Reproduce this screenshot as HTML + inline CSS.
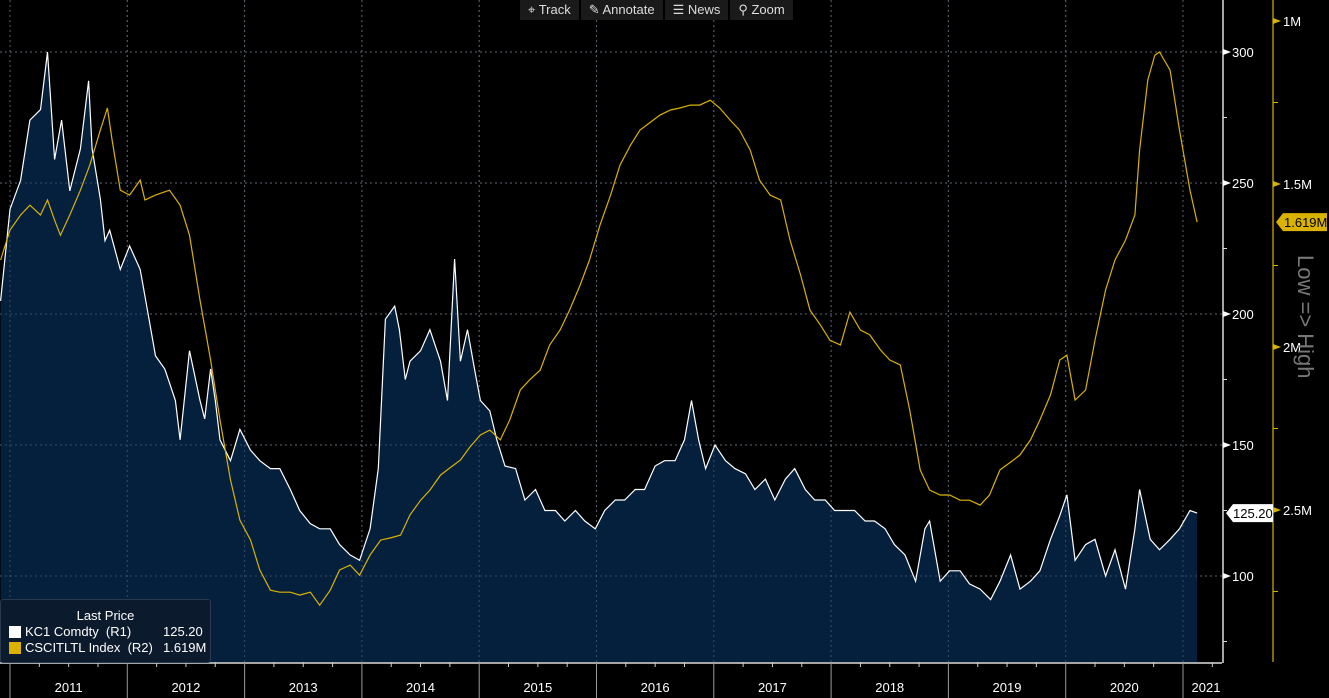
<!DOCTYPE html>
<html><head><meta charset="utf-8"><style>
html,body{margin:0;padding:0;background:#000;overflow:hidden}
svg{display:block;font-family:"Liberation Sans",sans-serif}
</style></head><body>
<svg id="c" width="1329" height="698"></svg>
<script>
const kcYears=[2010.92,2011.00,2011.09,2011.17,2011.26,2011.32,2011.38,2011.44,2011.51,2011.60,2011.67,2011.70,2011.77,2011.81,2011.85,2011.94,2012.02,2012.11,2012.17,2012.24,2012.32,2012.41,2012.45,2012.53,2012.62,2012.66,2012.71,2012.75,2012.79,2012.88,2012.96,2013.05,2013.13,2013.22,2013.30,2013.39,2013.47,2013.56,2013.64,2013.73,2013.81,2013.90,2013.98,2014.07,2014.14,2014.20,2014.28,2014.32,2014.37,2014.41,2014.50,2014.58,2014.67,2014.73,2014.79,2014.84,2014.90,2014.96,2015.01,2015.09,2015.15,2015.22,2015.31,2015.39,2015.48,2015.56,2015.65,2015.73,2015.82,2015.90,2015.99,2016.07,2016.16,2016.24,2016.33,2016.41,2016.50,2016.58,2016.67,2016.75,2016.81,2016.87,2016.93,2017.01,2017.10,2017.18,2017.27,2017.35,2017.44,2017.52,2017.61,2017.69,2017.78,2017.86,2017.95,2018.03,2018.12,2018.20,2018.29,2018.37,2018.46,2018.54,2018.63,2018.72,2018.80,2018.84,2018.93,2019.01,2019.10,2019.18,2019.27,2019.36,2019.44,2019.53,2019.61,2019.70,2019.78,2019.87,2019.95,2020.01,2020.08,2020.17,2020.25,2020.34,2020.42,2020.51,2020.59,2020.63,2020.72,2020.80,2020.89,2020.97,2021.06,2021.12];
const kcValues=[205,240,251,274,278,300,259,274,247,263,289,263,244,228,232,217,226,217,202,184,179,167,152,186,167,160,179,167,152,144,156,148,144,141,141,133,125,120,118,118,112,108,106,118,141,198,203,194,175,182,186,194,182,167,221,182,194,179,167,163,152,142,141,129,133,125,125,121,125,121,118,125,129,129,133,133,142,144,144,152,167,152,141,150,144,141,139,133,137,129,137,141,133,129,129,125,125,125,121,121,118,112,108,98,118,121,98,102,102,97,95,91,98,108,95,98,102,114,123,131,106,112,114,100,110,95,118,133,114,110,114,118,125,124];
const csYears=[2010.92,2011.00,2011.09,2011.17,2011.26,2011.32,2011.38,2011.43,2011.51,2011.60,2011.68,2011.77,2011.83,2011.87,2011.94,2012.02,2012.11,2012.15,2012.24,2012.36,2012.45,2012.53,2012.62,2012.71,2012.79,2012.88,2012.96,2013.05,2013.13,2013.22,2013.30,2013.39,2013.47,2013.56,2013.64,2013.73,2013.81,2013.90,2013.98,2014.07,2014.16,2014.24,2014.33,2014.41,2014.50,2014.58,2014.67,2014.75,2014.84,2014.92,2015.01,2015.09,2015.18,2015.26,2015.35,2015.43,2015.52,2015.60,2015.69,2015.77,2015.86,2015.94,2016.03,2016.12,2016.20,2016.29,2016.37,2016.46,2016.54,2016.63,2016.71,2016.80,2016.88,2016.97,2017.05,2017.14,2017.22,2017.31,2017.39,2017.48,2017.57,2017.65,2017.74,2017.82,2017.91,2017.99,2018.08,2018.16,2018.25,2018.33,2018.42,2018.50,2018.59,2018.67,2018.76,2018.84,2018.93,2019.01,2019.10,2019.18,2019.27,2019.35,2019.44,2019.53,2019.61,2019.70,2019.78,2019.87,2019.95,2020.01,2020.08,2020.17,2020.25,2020.34,2020.42,2020.51,2020.59,2020.63,2020.70,2020.76,2020.80,2020.89,2020.97,2021.06,2021.12];
const csValues=[1.733,1.641,1.595,1.565,1.595,1.549,1.611,1.657,1.595,1.519,1.442,1.335,1.267,1.365,1.519,1.534,1.488,1.549,1.534,1.519,1.565,1.657,1.856,2.040,2.224,2.408,2.531,2.592,2.684,2.746,2.752,2.752,2.761,2.752,2.792,2.746,2.684,2.669,2.700,2.638,2.592,2.586,2.577,2.515,2.470,2.439,2.393,2.371,2.347,2.307,2.270,2.255,2.285,2.224,2.132,2.101,2.071,1.994,1.948,1.887,1.810,1.733,1.626,1.534,1.442,1.381,1.335,1.310,1.289,1.273,1.267,1.258,1.258,1.243,1.267,1.304,1.335,1.396,1.488,1.534,1.549,1.672,1.779,1.887,1.933,1.979,1.994,1.893,1.948,1.963,2.009,2.040,2.055,2.193,2.377,2.439,2.454,2.454,2.470,2.470,2.485,2.454,2.377,2.353,2.331,2.285,2.224,2.147,2.040,2.025,2.163,2.132,1.979,1.825,1.733,1.672,1.595,1.396,1.181,1.105,1.095,1.151,1.335,1.519,1.617];
const yearLabels=[2011,2012,2013,2014,2015,2016,2017,2018,2019,2020,2021];
const leftTicks=[100,150,200,250,300];
const rightTicks=[1,1.5,2,2.5];

const NS="http://www.w3.org/2000/svg";
const svg=document.getElementById('c');
const X=t=>10+(t-2011)*117.3;
const Y1=v=>52+(300-v)*131/50;
const Y2=v=>21+(v-1)*326;
const PB=662, PR=1222;
function el(tag,attrs,parent){const e=document.createElementNS(NS,tag);for(const k in attrs)e.setAttribute(k,attrs[k]);(parent||svg).appendChild(e);return e;}

leftTicks.forEach(v=>{
  const l=el('line',{x1:0,x2:PR,y1:Y1(v),y2:Y1(v),stroke:'#666','stroke-dasharray':'2,3','stroke-width':1});
  
  
});
yearLabels.forEach(yr=>{
  const l=el('line',{x1:X(yr),x2:X(yr),y1:0,y2:PB,stroke:'#555','stroke-dasharray':'2,3'});
  
  
});
let d='M'+X(kcYears[0])+','+PB;
kcYears.forEach((t,i)=>{d+=' L'+X(t).toFixed(1)+','+Y1(kcValues[i]).toFixed(1);});
d+=' L'+X(kcYears[kcYears.length-1])+','+PB+' Z';
const area=el('path',{d:d,fill:'#05203d'});


leftTicks.forEach(v=>{
  const l=el('line',{x1:0,x2:PR,y1:Y1(v),y2:Y1(v),stroke:'#5a6a80','stroke-dasharray':'2,3','stroke-width':1,opacity:0.6});
  
  
});
yearLabels.forEach(yr=>{
  const l=el('line',{x1:X(yr),x2:X(yr),y1:0,y2:PB,stroke:'#5a6a80','stroke-dasharray':'2,3',opacity:0.6});
  
  
});
const kcLine=el('polyline',{points:kcYears.map((t,i)=>X(t).toFixed(1)+','+Y1(kcValues[i]).toFixed(1)).join(' '),fill:'none',stroke:'#fff','stroke-width':1.2});


const csLine=el('polyline',{points:csYears.map((t,i)=>X(t).toFixed(1)+','+Y2(csValues[i]).toFixed(1)).join(' '),fill:'none',stroke:'#d9b300','stroke-width':1.2});



el('rect',{x:0,y:PB,width:1329,height:36,fill:'#000'});
el('line',{x1:0,x2:PR,y1:PB+1,y2:PB+1,stroke:'#ddd','stroke-width':1.5});
yearLabels.forEach(yr=>{
  el('line',{x1:X(yr),x2:X(yr),y1:PB,y2:698,stroke:'#999'});
  for(let m=1;m<4;m++){const xx=X(yr+m/4);if(xx<PR)el('line',{x1:xx,x2:xx,y1:PB,y2:PB+5,stroke:'#ccc'});}
  const cx=yr===2021?X(2021)+23:X(yr)+58.6;
  const t=el('text',{x:cx,y:692,fill:'#fff','font-size':13,'text-anchor':'middle'});
  t.textContent=yr;
  
  
});
el('line',{x1:PR+1,x2:PR+1,y1:0,y2:PB+1,stroke:'#ddd','stroke-width':1.5});
leftTicks.forEach(v=>{
  const y=Y1(v);
  el('polygon',{points:`${PR+1},${y-3} ${PR+9},${y} ${PR+1},${y+3}`,fill:'#fff'});
  const t=el('text',{x:PR+10,y:y+5,fill:'#fff','font-size':13});
  t.textContent=v;
  
  
  const yy=Y1(v-25);if(yy<PB)el('line',{x1:PR+1,x2:PR+5,y1:yy,y2:yy,stroke:'#ddd'});
});
el('line',{x1:PR+1,x2:PR+5,y1:Y1(275),y2:Y1(275),stroke:'#ddd'});
el('line',{x1:1273,x2:1273,y1:0,y2:PB,stroke:'#d9b300','stroke-width':1.2});
rightTicks.forEach(v=>{
  const y=Y2(v);
  el('polygon',{points:`${1273},${y-3} ${1281},${y} ${1273},${y+3}`,fill:'#d9b300'});
  const t=el('text',{x:1283,y:y+5,fill:'#fff','font-size':13});
  t.textContent=v+'M';
  
  
  const yy=Y2(v+0.25);if(yy<PB)el('line',{x1:1273,x2:1278,y1:yy,y2:yy,stroke:'#d9b300'});
});
const ly=Y2(csValues[csValues.length-1]);
el('polygon',{points:`1276,${ly} 1283,${ly-9} 1327,${ly-9} 1327,${ly+9} 1283,${ly+9}`,fill:'#d9b300'});
const lt=el('text',{x:1284,y:ly+5,fill:'#000','font-size':13});lt.textContent='1.619M';


const ky=Y1(kcValues[kcValues.length-1]);
el('polygon',{points:`1226,${ky} 1233,${ky-9} 1273,${ky-9} 1273,${ky+9} 1233,${ky+9}`,fill:'#fff'});
const kt=el('text',{x:1233,y:ky+5,fill:'#000','font-size':13});kt.textContent='125.20';


const rl=el('text',{x:0,y:0,fill:'#777','font-size':22,transform:'translate(1298,255) rotate(90)'});
rl.textContent='Low => High';


</script>
<div style="position:absolute;left:520px;top:0;height:20px;display:flex;font:13px 'Liberation Sans',sans-serif;color:#ddd">
<div style="background:#1a1a1a;padding:2px 8px;margin-right:2px">⌖ Track</div>
<div style="background:#1a1a1a;padding:2px 8px;margin-right:2px">✎ Annotate</div>
<div style="background:#1a1a1a;padding:2px 8px;margin-right:2px">☰ News</div>
<div style="background:#1a1a1a;padding:2px 8px">⚲ Zoom</div>
</div>
<div style="position:absolute;left:0;top:599px;width:209px;height:62px;background:#0b1a2c;border:1px solid #2a3a4e;border-radius:3px;font:13px 'Liberation Sans',sans-serif;color:#fff">
<div style="text-align:center;margin-top:8px;line-height:16px">Last Price</div>
<div style="display:flex;align-items:center;line-height:16px;padding-left:8px"><span style="width:12px;height:12px;background:#fff;margin-right:4px"></span><span style="width:138px">KC1 Comdty &nbsp;(R1)</span><span>125.20</span></div>
<div style="display:flex;align-items:center;line-height:16px;padding-left:8px"><span style="width:12px;height:12px;background:#d9b300;margin-right:4px"></span><span style="width:138px;white-space:nowrap">CSCITLTL Index &nbsp;(R2)</span><span>1.619M</span></div>
</div>
</body></html>
